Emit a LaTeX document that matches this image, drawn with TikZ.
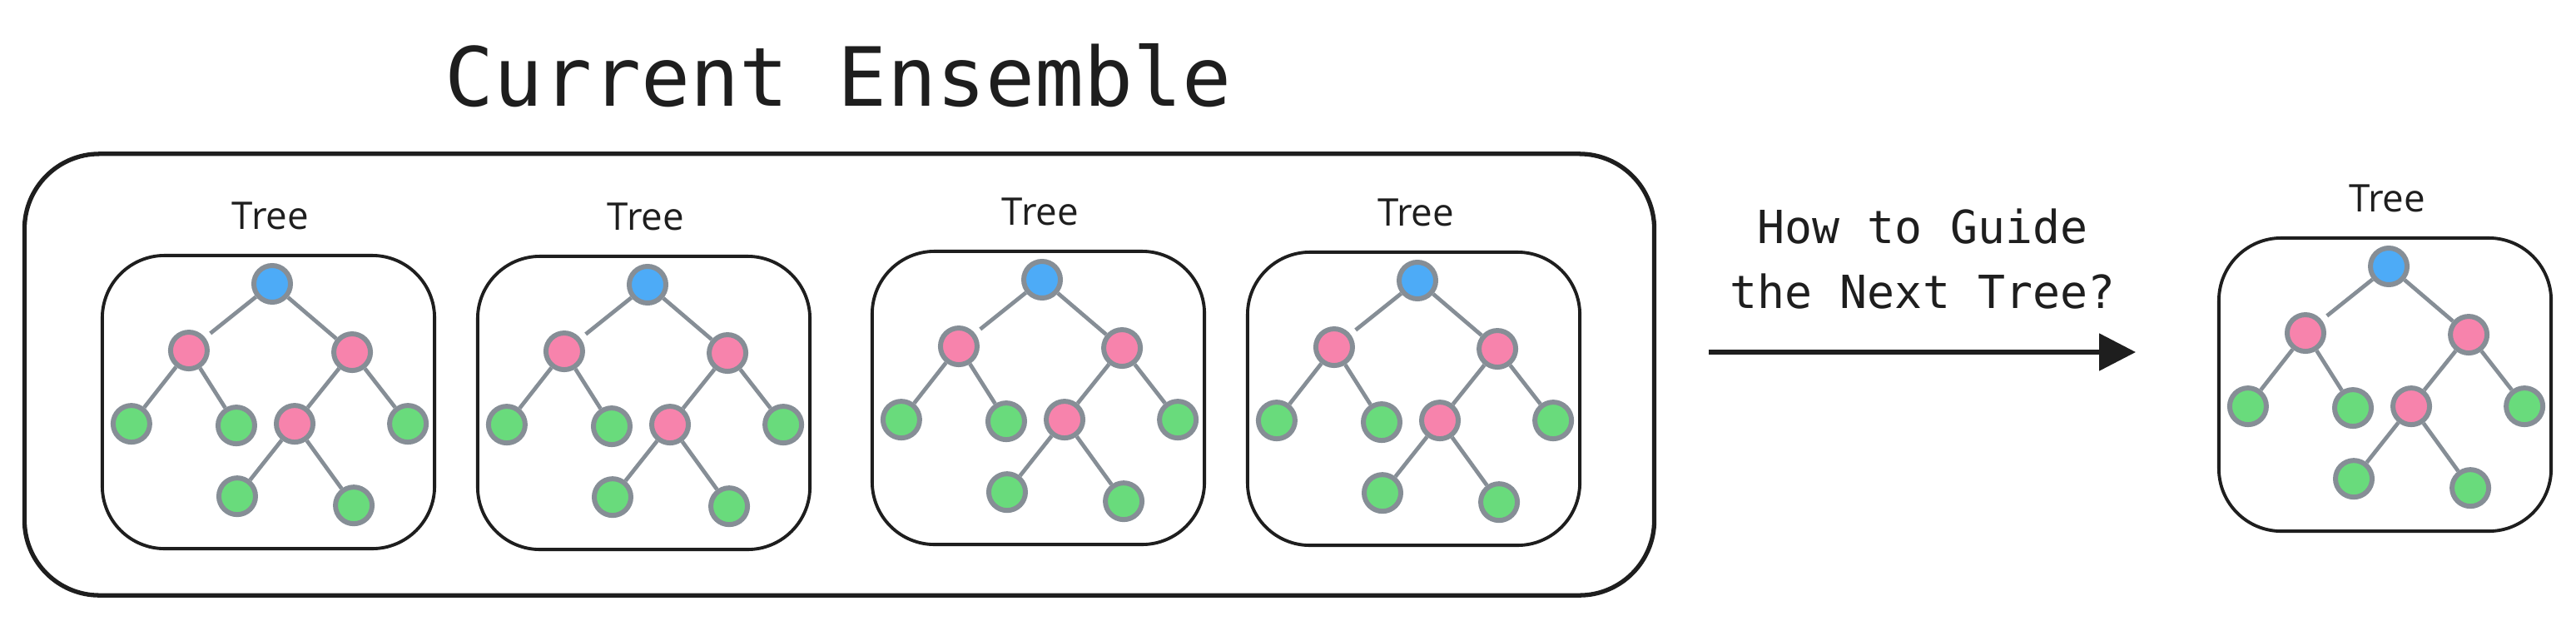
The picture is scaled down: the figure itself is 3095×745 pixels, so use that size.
\documentclass[tikz,border=0pt]{standalone}
\usepackage{fontspec}
\newfontfamily\sketchmono{DejaVu Sans Mono}
\newfontfamily\sketchhand{Open Sans}
\usetikzlibrary{positioning,arrows.meta}
\definecolor{ink}{HTML}{1E1E1E}
\definecolor{nodegray}{HTML}{868E96}
\definecolor{nodeblue}{HTML}{4DABF7}
\definecolor{nodepink}{HTML}{F783AC}
\definecolor{nodegreen}{HTML}{69DB7C}

\begin{document}
\begin{tikzpicture}[x=0.01cm, y=-0.01cm, on grid,
    vertex/.style = {draw=nodegray, circle, line width=1.7pt, minimum size=4.4mm, inner sep=0pt},
    rootnode/.style = {vertex, fill=nodeblue},
    splitnode/.style = {vertex, fill=nodepink},
    leafnode/.style = {vertex, fill=nodegreen},
    branch/.style = {draw=nodegray, line width=1.35pt},
    treebox/.style = {draw=ink, line width=1.1pt, rounded corners=7.5mm, minimum width=39.9mm, minimum height=35.2mm},
    groupbox/.style = {draw=ink, line width=1.5pt, rounded corners=9mm, minimum width=195.7mm, minimum height=53mm},
    treelabel/.style = {font=\sketchhand\fontsize{13}{15}\selectfont, text=ink, inner sep=0pt, anchor=base},
    titletext/.style = {font=\sketchmono\fontsize{27.9}{33}\selectfont, text=ink, inner sep=0pt, anchor=base},
    question/.style = {font=\sketchmono\fontsize{15.6}{22.2}\selectfont, text=ink, inner sep=0pt, align=center, anchor=north},
    flow/.style = {draw=ink, line width=1.5pt, -{Triangle[length=4.4mm, width=4.4mm]}}]
  \useasboundingbox (0,0) rectangle (3095,745);

  % the ensemble so far
  \node[groupbox] (ensemble) at (1008.5,450) {};
  \node[titletext] (title) at (1007,127) {Current Ensemble};

  % one tree per entry: number / root x / root y
  \foreach \t/\x/\y in {1/327/341, 2/778/342, 3/1252/336, 4/1703/337, 5/2870/320} {
    \node[treebox] (box\t) at ({\x-4.5},{\y+142}) {};
    \node[treelabel] (lbl\t) at ({\x-2},{\y-66}) {Tree};
    \node[rootnode] (r\t) at (\x,\y) {};
    \node[splitnode] (b\t) [below left=8mm and 10mm of r\t] {};
    \node[splitnode] (c\t) [below right=8.2mm and 9.6mm of r\t] {};
    \node[leafnode] (d\t) [below left=8.8mm and 6.9mm of b\t] {};
    \node[leafnode] (e\t) [below right=9mm and 5.7mm of b\t] {};
    \node[splitnode] (f\t) [below left=8.6mm and 6.9mm of c\t] {};
    \node[leafnode] (g\t) [below right=8.6mm and 6.7mm of c\t] {};
    \node[leafnode] (h\t) [below left=8.7mm and 6.9mm of f\t] {};
    \node[leafnode] (i\t) [below right=9.8mm and 7.1mm of f\t] {};
    \draw[branch, shorten >=0.8mm] (r\t) -- (b\t);
    \draw[branch] (r\t) -- (c\t);
    \draw[branch] (b\t) -- (d\t);
    \draw[branch] (b\t) -- (e\t);
    \draw[branch] (c\t) -- (f\t);
    \draw[branch] (c\t) -- (g\t);
    \draw[branch] (f\t) -- (h\t);
    \draw[branch] (f\t) -- (i\t);
  }

  % step to the next tree
  \coordinate (askstart) at (2053,423);
  \coordinate (askend) at (2566,423);
  \draw[flow] (askstart) -- (askend);
  \node[question] (ask) at (2310,250) {How to Guide\\the Next Tree?};
\end{tikzpicture}
\end{document}
